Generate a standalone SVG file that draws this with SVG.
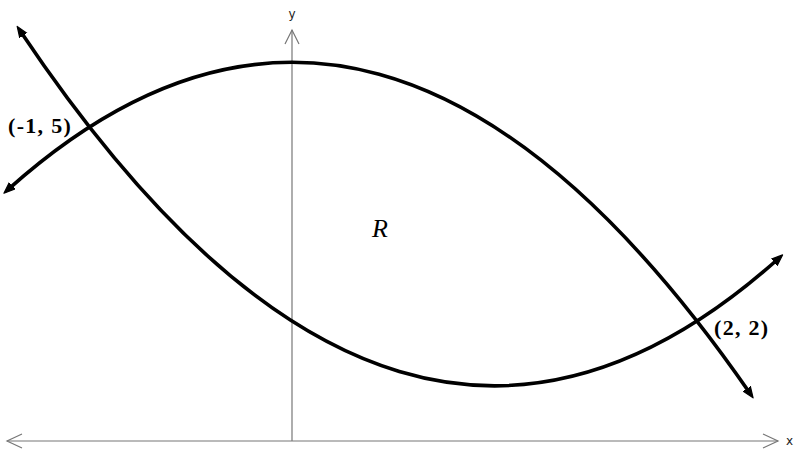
<svg xmlns="http://www.w3.org/2000/svg" width="800" height="462" viewBox="0 0 800 462">
  <style>
    .axis { stroke: #777; stroke-width: 1.2; fill: none; }
    .curve { stroke: #000; stroke-width: 3.6; fill: none; stroke-linecap: round; }
    .lbl { font-family: "Liberation Serif", "Times New Roman", Times, serif; font-weight: bold; font-size: 22px; letter-spacing: 1.3px; fill: #000; }
    .ax { font-family: "DejaVu Sans", "Liberation Sans", sans-serif; font-size: 12px; fill: #222; }
    .reg { font-family: "Liberation Serif", "Times New Roman", Times, serif; font-style: italic; font-size: 26px; fill: #000; }
  </style>
  <defs>
    <marker id="ah" viewBox="0 0 10 10" refX="4" refY="5" markerWidth="3.4" markerHeight="3.4" orient="auto-start-reverse" markerUnits="strokeWidth">
      <path d="M0,1.5 L9,5 L0,8.5 Z" fill="#000" stroke="#000" stroke-width="1" stroke-linejoin="round"/>
    </marker>
  </defs>
  <g id="axes">
    <line class="axis" x1="292" y1="441" x2="292" y2="30"/>
    <polyline class="axis" points="285,44 292,30 299,44"/>
    <line class="axis" x1="7" y1="441" x2="778" y2="441"/>
    <polyline class="axis" points="763,434 778,441 763,448"/>
    <polyline class="axis" points="22,434 7,441 22,448"/>
    <text class="ax" x="292" y="18" text-anchor="middle">y</text>
    <text class="ax" x="786" y="445">x</text>
  </g>
  <g id="connectors">
    <path id="f-curve" class="curve" d="M8.5,189.1 Q379.1,-142.4 749.6,392.8" marker-start="url(#ah)" marker-end="url(#ah)"/>
    <path id="g-curve" class="curve" d="M20.6,31.5 Q399.3,597.8 778,259" marker-start="url(#ah)" marker-end="url(#ah)"/>
  </g>
  <g id="label-p1">
    <text class="lbl" x="8" y="133">(-1, 5)</text>
  </g>
  <g id="label-p2">
    <text class="lbl" x="714" y="335">(2, 2)</text>
  </g>
  <g id="region">
    <text class="reg" x="372" y="237">R</text>
  </g>
</svg>
